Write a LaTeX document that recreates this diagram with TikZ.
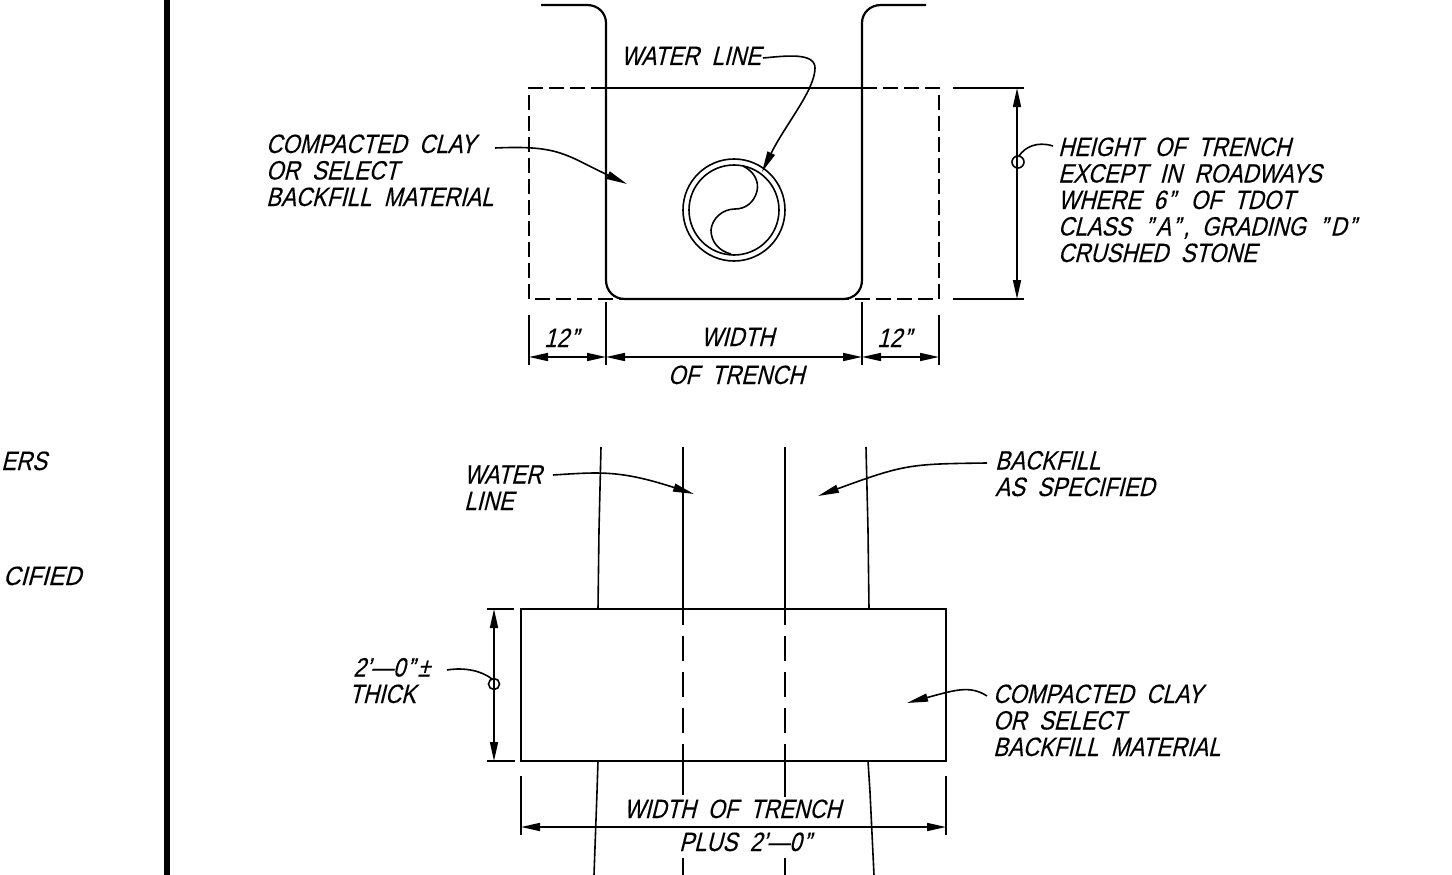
\documentclass[tikz,border=0pt]{standalone}
\usepackage{fontspec}
\setmainfont{Liberation Sans}[WordSpace=2, FakeSlant=0.3, FakeBold=0.3]
\usetikzlibrary{arrows.meta}
\newcommand{\inch}{\kern2pt"\kern4pt}
\tikzset{
	thinline/.style={line width=1.6pt},
	wall/.style={line width=2.2pt},
	hidden/.style={line width=2.2pt, dash pattern=on 15pt off 6pt},
	pipehidden/.style={line width=1.6pt, dash pattern=on 25pt off 11pt, dash phase=9pt},
	dimline/.style={line width=1.6pt, {Triangle[length=19pt,width=8pt]}-{Triangle[length=19pt,width=8pt]}},
	leader/.style={line width=1.6pt, -{Triangle[length=21pt,width=8pt]}},
	note/.style={inner sep=0pt, anchor=base west, align=left, transform shape, xscale=0.84,
		font=\fontsize{26.5}{26.5}\selectfont},
}
\begin{document}
\begin{tikzpicture}[x=1pt, y=-1pt]
	\useasboundingbox (0, 0) rectangle (1452, 875);
	\fill (164, 0) rectangle (170, 875);
	\node[note] (ers) at (1, 470) {ERS};
	\node[note, xscale=1.07] (cified) at (3, 585) {CIFIED};
	% upper section
	\draw[wall] (541, 5) -- (587, 5) .. controls (598, 5) and (606, 13) .. (606, 23) -- (606, 280) .. controls (606, 291) and (614, 299) .. (625, 299) -- (843, 299) .. controls (854, 299) and (862, 291) .. (862, 280) -- (862, 23) .. controls (862, 13) and (870, 5) .. (881, 5) -- (926, 5);
	\draw[wall] (606, 88) -- (862, 88);
	\draw[hidden] (606, 88) -- (529, 88) -- (529, 299) -- (625, 299);
	\draw[hidden] (862, 88) -- (939, 88) -- (939, 299) -- (843, 299);
	\draw[thinline] (734, 210) circle (51);
	\draw[thinline] (734, 210) circle (45);
	\draw[thinline] (743, 166) .. controls (755, 172) and (759, 182) .. (757, 191) .. controls (754, 203) and (745, 209) .. (735, 209) .. controls (722, 209) and (712, 219) .. (711, 230) .. controls (711, 242) and (719, 251) .. (731, 254);
	\draw[thinline] (529, 315) -- (529, 365);
	\draw[thinline] (606, 302) -- (606, 365);
	\draw[thinline] (862, 302) -- (862, 365);
	\draw[thinline] (939, 315) -- (939, 365);
	\draw[dimline] (529, 357) -- (606, 357);
	\draw[dimline] (606, 357) -- (862, 357);
	\draw[dimline] (862, 357) -- (939, 357);
	\draw[thinline] (953, 88) -- (1024, 88);
	\draw[thinline] (953, 299) -- (1024, 299);
	\draw[dimline] (1017, 88) -- (1017, 299);
	\node[note] (waterline) at (621, 65) {WATER LINE};
	\node[note] (clay) at (266, 206) {COMPACTED CLAY\\OR SELECT\\BACKFILL MATERIAL};
	\node[note] (height) at (1058, 262) {HEIGHT OF TRENCH\\EXCEPT IN ROADWAYS\\WHERE 6\inch{} OF TDOT\\CLASS \inch{}A\inch{}, GRADING \inch{}D\inch\\CRUSHED STONE};
	\node[note] (twelvea) at (544, 347) {12\inch};
	\node[note] (widtha) at (701, 346) {WIDTH};
	\node[note] (twelveb) at (877, 347) {12\inch};
	\node[note] (oftrench) at (668, 384) {OF TRENCH};
	\coordinate (pipetop) at (762, 172);
	\coordinate (claytip) at (627, 184);
	\coordinate (heightdot) at (1018, 162);
	\draw[leader] (763, 58) .. controls (785, 56) and (815, 52) .. (815, 68) .. controls (815, 90) and (785, 125) .. (pipetop);
	\draw[leader] (495, 148) .. controls (560, 145) and (565, 155) .. (claytip);
	\draw[thinline] (1053, 146) .. controls (1037, 141) and (1025, 147) .. (1019, 156);
	\draw[thinline] (heightdot) circle (6);
	% lower section
	\draw[wall] (521, 609) rectangle (946, 761);
	\draw[thinline] (601, 447) -- (599, 530) -- (598, 609);
	\draw[thinline] (866, 447) -- (868, 530) -- (869, 609);
	\draw[thinline] (598, 761) -- (597, 792) -- (594, 875);
	\draw[thinline] (868, 761) -- (870, 792) -- (874, 875);
	\draw[thinline] (683, 447) -- (683, 609);
	\draw[thinline] (785, 447) -- (785, 609);
	\draw[pipehidden] (683, 609) -- (683, 761);
	\draw[pipehidden] (785, 609) -- (785, 761);
	\draw[thinline] (683, 761) -- (683, 795);
	\draw[thinline] (785, 761) -- (785, 797);
	\draw[thinline] (683, 858) -- (683, 875);
	\draw[thinline] (785, 858) -- (785, 875);
	\draw[thinline] (487, 609) -- (514, 609);
	\draw[thinline] (487, 761) -- (515, 761);
	\draw[dimline] (494, 609) -- (494, 761);
	\draw[thinline] (521, 776) -- (521, 835);
	\draw[thinline] (946, 776) -- (946, 835);
	\draw[dimline] (521, 827) -- (946, 827);
	\node[note] (waterb) at (464, 510) {WATER\\LINE};
	\node[note] (backfill) at (995, 496) {BACKFILL\\AS SPECIFIED};
	\node[note] (thick) at (349, 703) {\hspace*{5pt}2'---0\inch{}±\\THICK};
	\node[note] (clayb) at (993, 756) {COMPACTED CLAY\\OR SELECT\\BACKFILL MATERIAL};
	\node[note, xscale=0.98] (widthb) at (624, 818) {WIDTH OF TRENCH};
	\node[note] (plus) at (679, 851) {PLUS 2'---0\inch};
	\coordinate (watertip) at (694, 494);
	\coordinate (backtip) at (818, 496);
	\coordinate (claybtip) at (907, 703);
	\coordinate (thickdot) at (494, 684);
	\draw[leader] (553, 475) .. controls (600, 472) and (620, 470) .. (watertip);
	\draw[leader] (987, 463) .. controls (910, 464) and (905, 464) .. (backtip);
	\draw[leader] (987, 696) .. controls (970, 685) and (955, 690) .. (claybtip);
	\draw[thinline] (447, 670) .. controls (465, 667) and (482, 671) .. (492, 679);
	\draw[thinline] (thickdot) circle (5.5);
\end{tikzpicture}
\end{document}
